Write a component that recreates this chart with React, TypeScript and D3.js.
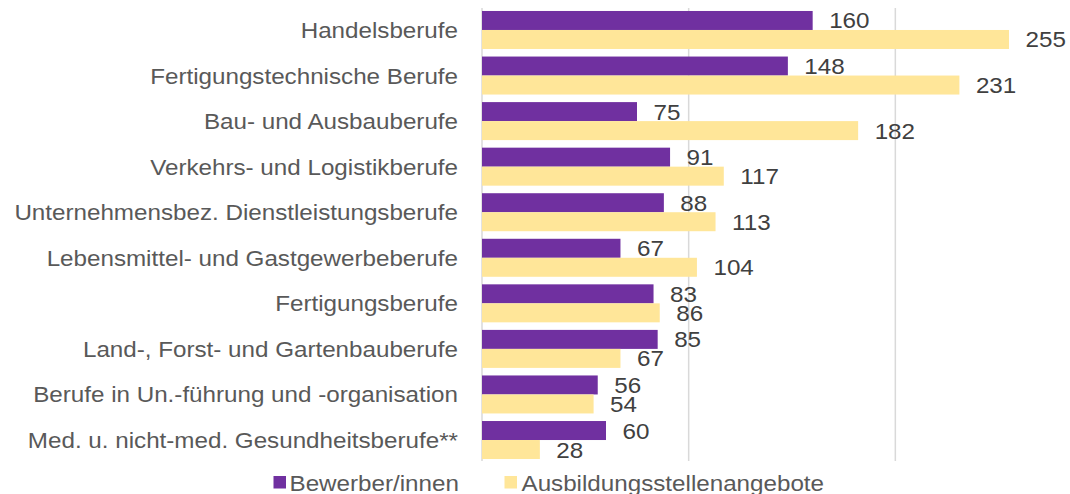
import React from "react";
import * as d3 from "d3";

const categories = [
  "Handelsberufe",
  "Fertigungstechnische Berufe",
  "Bau- und Ausbauberufe",
  "Verkehrs- und Logistikberufe",
  "Unternehmensbez. Dienstleistungsberufe",
  "Lebensmittel- und Gastgewerbeberufe",
  "Fertigungsberufe",
  "Land-, Forst- und Gartenbauberufe",
  "Berufe in Un.-führung und -organisation",
  "Med. u. nicht-med. Gesundheitsberufe**",
];
const bewerber = [160, 148, 75, 91, 88, 67, 83, 85, 56, 60];
const angebote = [255, 231, 182, 117, 113, 104, 86, 67, 54, 28];
const seriesNames = ["Bewerber/innen", "Ausbildungsstellenangebote"];
const xTicks = [0, 100, 200, 300];

const W = 1070;
const H = 494;
const PURPLE = "#7030A0";
const YELLOW = "#FFE699";
const FONT = "'Liberation Sans', Arial, sans-serif";

export default function App() {
  const x = d3.scaleLinear().domain([0, 300]).range([482, 1102]);
  const y = d3
    .scaleBand<string>()
    .domain(categories)
    .range([7.2, 462.8])
    .paddingInner(0.166)
    .paddingOuter(0.083);
  const bw = y.bandwidth() / 2;
  const fs = 22;
  const sx = 1.1;

  const label = (tx: number, ty: number, txt: string, anchor: string, color: string, size: number) => (
    <text
      transform={`translate(${tx},${ty}) scale(${sx},1)`}
      textAnchor={anchor as any}
      fontFamily={FONT}
      fontSize={size}
      fill={color}
    >
      {txt}
    </text>
  );

  return (
    <svg
      width={W}
      height={H}
      style={{ position: "absolute", left: 0, top: 0, background: "#fff" }}
    >
      {xTicks.map((t) => (
        <line
          key={t}
          x1={x(t)}
          x2={x(t)}
          y1={8}
          y2={461}
          stroke="#d9d9d9"
          strokeWidth={1.5}
        />
      ))}
      {categories.map((c, i) => {
        const y0 = y(c)!;
        const b1 = bewerber[i];
        const b2 = angebote[i];
        return (
          <g key={c}>
            <rect x={x(0)} y={y0} width={x(b1) - x(0)} height={bw} fill={PURPLE} />
            <rect x={x(0)} y={y0 + bw} width={x(b2) - x(0)} height={bw} fill={YELLOW} />
            {label(x(b1) + 16.5, y0 + bw / 2 + 8, String(b1), "start", "#404040", fs)}
            {label(x(b2) + 16.5, y0 + bw * 1.5 + 8, String(b2), "start", "#404040", fs)}
            {label(458, y0 + bw + 8, c, "end", "#595959", fs)}
          </g>
        );
      })}
      <g>
        <rect x={273.5} y={476} width={12.5} height={12.5} fill={PURPLE} />
        {label(289.5, 490.5, seriesNames[0], "start", "#595959", fs)}
        <rect x={504.5} y={476} width={12.5} height={12.5} fill={YELLOW} />
        {label(521.5, 490.5, seriesNames[1], "start", "#595959", fs)}
      </g>
    </svg>
  );
}
